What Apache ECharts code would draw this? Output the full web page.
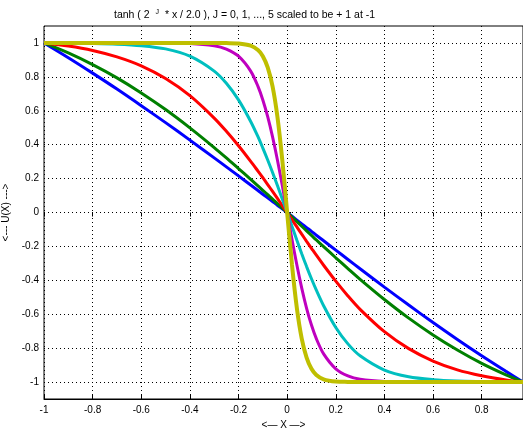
<!DOCTYPE html>
<html style="height: 100%">
<head>
    <meta charset="utf-8">
    <script src="https://cdn.jsdelivr.net/npm/echarts@6/dist/echarts.min.js"></script>
</head>
<body style="height: 100%; margin: 0; background: #fff">
    <div id="container" style="width: 523px; height: 431px"></div>
    <script type="text/javascript">
        // x samples shared by all curves (plot is cut off just short of x = 1)
        const xs = [-1, -0.9, -0.8, -0.7, -0.6, -0.5, -0.4, -0.3, -0.25, -0.2, -0.15, -0.12, -0.1, -0.08, -0.06, -0.04, -0.02,
            0, 0.02, 0.04, 0.06, 0.08, 0.1, 0.12, 0.15, 0.2, 0.25, 0.3, 0.4, 0.5, 0.6, 0.7, 0.8, 0.9, 0.97];

        // curve values, J = 0..5
        const uJ0 = [1, 0.913, 0.822, 0.728, 0.630, 0.530, 0.427, 0.322, 0.269, 0.216, 0.162, 0.130, 0.108, 0.087, 0.065, 0.043, 0.022,
            0, -0.022, -0.045, -0.067, -0.089, -0.111, -0.134, -0.167, -0.222, -0.277, -0.332, -0.440, -0.546, -0.649, -0.749, -0.845, -0.937, -1];
        const uJ1 = [1, 0.941, 0.872, 0.794, 0.705, 0.607, 0.499, 0.383, 0.322, 0.259, 0.196, 0.157, 0.131, 0.105, 0.079, 0.052, 0.026,
            0, -0.027, -0.054, -0.081, -0.108, -0.135, -0.162, -0.201, -0.267, -0.331, -0.394, -0.513, -0.623, -0.722, -0.811, -0.890, -0.958, -1];
        const uJ2 = [1, 0.982, 0.956, 0.918, 0.865, 0.790, 0.689, 0.557, 0.479, 0.394, 0.302, 0.244, 0.205, 0.165, 0.124, 0.083, 0.041,
            0, -0.043, -0.085, -0.128, -0.170, -0.211, -0.252, -0.311, -0.405, -0.492, -0.571, -0.703, -0.803, -0.876, -0.928, -0.963, -0.988, -1];
        const uJ3 = [1, 0.999, 0.997, 0.993, 0.984, 0.965, 0.922, 0.834, 0.762, 0.664, 0.537, 0.447, 0.380, 0.310, 0.236, 0.159, 0.080,
            0, -0.082, -0.164, -0.243, -0.319, -0.391, -0.458, -0.550, -0.678, -0.775, -0.845, -0.929, -0.969, -0.986, -0.994, -0.997, -0.999, -1];
        const uJ4 = [1, 1, 1, 1, 1, 0.999, 0.997, 0.984, 0.964, 0.922, 0.834, 0.744, 0.664, 0.565, 0.446, 0.310, 0.159,
            0, -0.159, -0.310, -0.446, -0.565, -0.664, -0.744, -0.834, -0.922, -0.964, -0.984, -0.997, -0.999, -1, -1, -1, -1, -1];
        const uJ5 = [1, 1, 1, 1, 1, 1, 1, 1, 0.999, 0.997, 0.984, 0.958, 0.922, 0.856, 0.744, 0.565, 0.310,
            0, -0.310, -0.565, -0.744, -0.856, -0.922, -0.958, -0.984, -0.997, -0.999, -1, -1, -1, -1, -1, -1, -1, -1];

        const yTicks = [-1, -0.8, -0.6, -0.4, -0.2, 0, 0.2, 0.4, 0.6, 0.8, 1];

        const curves = [uJ0, uJ1, uJ2, uJ3, uJ4, uJ5];
        const colors = ['#0000ff', '#008000', '#ff0000', '#00bfbf', '#bf00bf', '#bfbf00'];
        const widths = [3, 3, 3, 3, 3, 4];

        const font = 'Liberation Sans, Arial, sans-serif';
        const dotted = { color: '#000', width: 1, type: [1, 3] };

        let dom = document.getElementById('container');
        let myChart = echarts.init(dom, null, { renderer: 'canvas' });

        let series = curves.map((ys, j) => ({
            name: 'J=' + j,
            type: 'line',
            xAxisIndex: 0,
            yAxisIndex: 0,
            showSymbol: false,
            smooth: 0.3,
            lineStyle: { color: colors[j], width: widths[j] },
            data: xs.map((x, i) => [x, ys[i]])
        }));

        let option = {
            animation: false,
            backgroundColor: '#fff',
            title: {
                text: '{n|tanh ( 2 }{s|J}{n| * x / 2.0 ), J = 0, 1, ..., 5 scaled to be + 1 at -1}',
                left: 109,
                top: 4,
                textStyle: {
                    fontWeight: 'normal',
                    rich: {
                        n: { fontFamily: font, fontSize: 10.5, fontWeight: 'normal', color: '#000' },
                        s: { fontFamily: font, fontSize: 7, fontWeight: 'normal', color: '#000', verticalAlign: 'top', padding: [0, 3, 5, 3] }
                    }
                }
            },
            grid: [
                { left: 44, right: 0, top: 26, bottom: 32, containLabel: false, outerBoundsMode: 'none',
                  show: true, borderColor: '#000', borderWidth: 1, backgroundColor: '#fff' },
                { left: 44, right: 0, top: 43, bottom: 49, containLabel: false, outerBoundsMode: 'none' }
            ],
            xAxis: [
                {
                    gridIndex: 0, type: 'value', min: -1, max: 0.97, interval: 0.2,
                    name: '<— X —>', nameLocation: 'middle', nameGap: 20,
                    nameTextStyle: { fontFamily: font, fontSize: 10, color: '#000' },
                    axisLine: { show: true, onZero: false, lineStyle: { color: '#000' } },
                    axisTick: { show: true, inside: true, length: 4, lineStyle: { color: '#000' } },
                    axisLabel: { fontFamily: font, fontSize: 10, color: '#000', margin: 6, showMinLabel: true, showMaxLabel: false },
                    splitLine: { show: true, lineStyle: dotted }
                },
                {
                    gridIndex: 0, type: 'value', position: 'top', min: -1, max: 0.97, interval: 0.2,
                    axisLine: { show: false },
                    axisTick: { show: true, inside: true, length: 4, lineStyle: { color: '#000' } },
                    axisLabel: { show: false },
                    splitLine: { show: false }
                },
                {
                    gridIndex: 1, type: 'value', min: -1, max: 0.97, show: false
                }
            ],
            yAxis: [
                {
                    gridIndex: 0, type: 'value', min: -1.1, max: 1.1,
                    name: '<--- U(X) --->', nameLocation: 'middle', nameGap: 29,
                    nameTextStyle: { fontFamily: font, fontSize: 10, color: '#000' },
                    axisLine: { show: false },
                    axisTick: { show: true, inside: true, length: 4, customValues: yTicks, lineStyle: { color: '#000' } },
                    axisLabel: { fontFamily: font, fontSize: 10, color: '#000', margin: 5, customValues: yTicks },
                    splitLine: { show: false }
                },
                {
                    gridIndex: 1, type: 'value', min: -1, max: 1, interval: 0.2,
                    axisLine: { show: false }, axisTick: { show: false }, axisLabel: { show: false },
                    splitLine: { show: true, lineStyle: dotted }
                }
            ],
            series: series
        };

        myChart.setOption(option);
    </script>
</body>
</html>
